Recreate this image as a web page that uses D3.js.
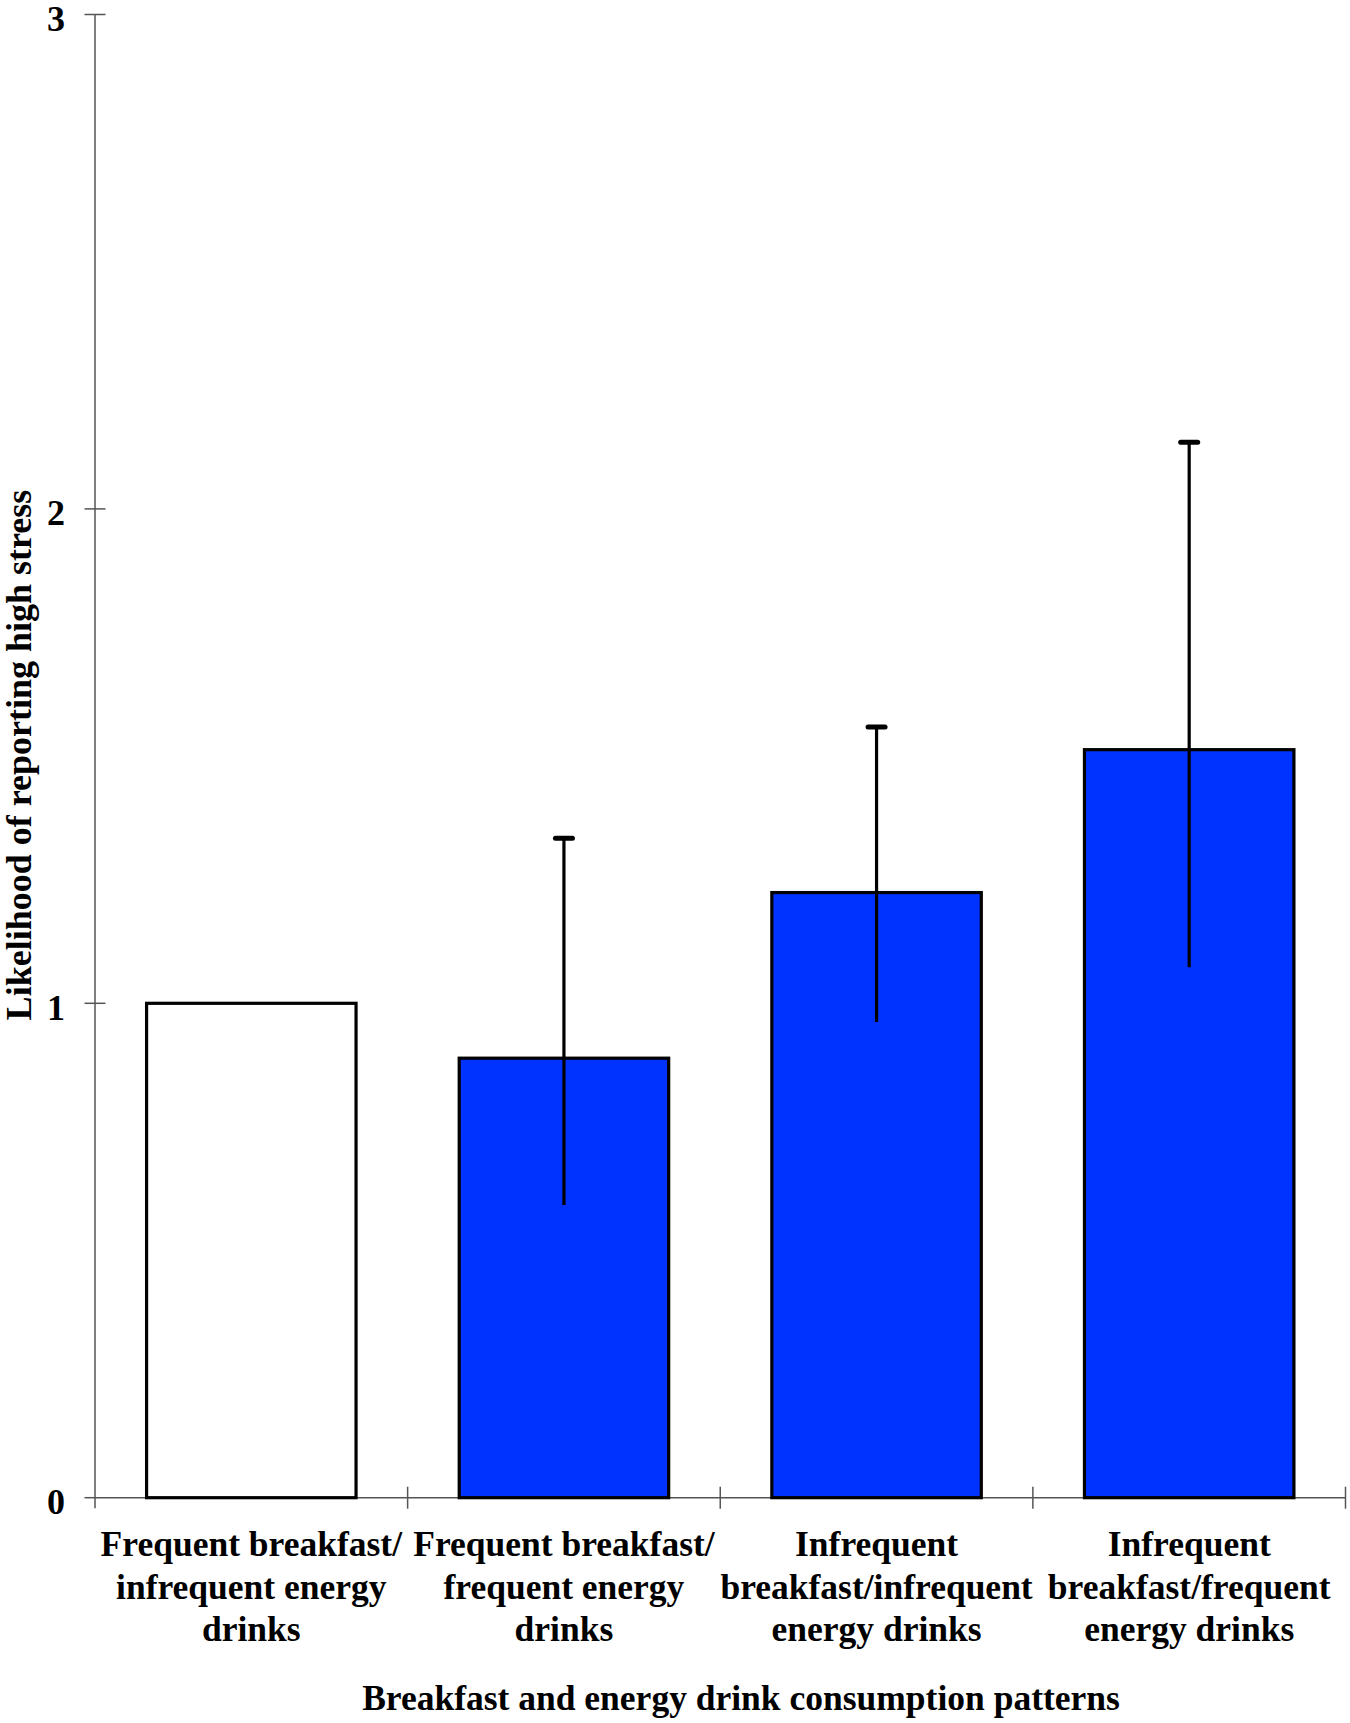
<!DOCTYPE html>
<html>
<head>
<meta charset="utf-8">
<script src="https://cdn.jsdelivr.net/npm/d3@7"></script>
<style>
  html, body { margin: 0; padding: 0; background: #ffffff; }
  svg { display: block; }
  text { font-family: "Liberation Serif", "Times New Roman", serif; font-weight: bold; fill: #000; }
</style>
</head>
<body>
<svg id="chart" width="1350" height="1723"></svg>
<script>
// ---- data ----
const categories = [
  ["Frequent breakfast/", "infrequent energy", "drinks"],
  ["Frequent breakfast/", "frequent energy", "drinks"],
  ["Infrequent", "breakfast/infrequent", "energy drinks"],
  ["Infrequent", "breakfast/frequent", "energy drinks"]
];
const values  = [1.0, 0.889, 1.224, 1.513];
const ciLower = [null, 0.592, 0.962, 1.073];
const ciUpper = [null, 1.336, 1.561, 2.137];
const isReference = [true, false, false, false];
const yTicks = [0, 1, 2, 3];
const yTitle = "Likelihood of reporting high stress";
const xTitle = "Breakfast and energy drink consumption patterns";

// ---- layout ----
const svg = d3.select("#chart");
const plotLeft = 95, plotRight = 1345.5, plotTop = 14.5, plotBottom = 1497.7;
const blue = "#0033ff";
const axisColor = "#555555";

const ids = d3.range(categories.length);
const x = d3.scaleBand().domain(ids).range([plotLeft, plotRight])
  .paddingInner(0.33).paddingOuter(0.165);
const y = d3.scaleLinear().domain([0, 3]).range([plotBottom, plotTop]);

// axes lines
svg.append("line")
  .attr("x1", plotLeft).attr("x2", plotLeft)
  .attr("y1", y(3)).attr("y2", y(0) + 10.5)
  .attr("stroke", axisColor).attr("stroke-width", 1.5);
svg.append("line")
  .attr("x1", plotLeft).attr("x2", plotRight)
  .attr("y1", y(0)).attr("y2", y(0))
  .attr("stroke", axisColor).attr("stroke-width", 1.5);

// y ticks (crossing the axis, "0" only to the left)
svg.selectAll(".ytick").data(yTicks).join("line")
  .attr("class", "ytick")
  .attr("x1", plotLeft - 10.5)
  .attr("x2", d => d === 0 ? plotLeft : plotLeft + 10.5)
  .attr("y1", d => y(d)).attr("y2", d => y(d))
  .attr("stroke", axisColor).attr("stroke-width", 1.5);
svg.selectAll(".ylab").data(yTicks).join("text")
  .attr("class", "ylab")
  .attr("x", 65).attr("y", d => y(d))
  .attr("dy", "0.45em")
  .attr("text-anchor", "end")
  .attr("font-size", 36)
  .text(d => d);

// x ticks at band boundaries
const half = x.step() * x.paddingInner() / 2;
const boundaries = ids.map(i => x(i) - half).concat([plotRight]);
svg.selectAll(".xtick").data(boundaries.slice(1)).join("line")
  .attr("class", "xtick")
  .attr("x1", d => d).attr("x2", d => d)
  .attr("y1", y(0) - 11).attr("y2", y(0) + 11)
  .attr("stroke", axisColor).attr("stroke-width", 1.5);

// bars
svg.selectAll(".bar").data(ids).join("rect")
  .attr("class", "bar")
  .attr("x", i => x(i))
  .attr("y", i => y(values[i]))
  .attr("width", x.bandwidth())
  .attr("height", i => y(0) - y(values[i]))
  .attr("fill", i => isReference[i] ? "#ffffff" : blue)
  .attr("stroke", "#000")
  .attr("stroke-width", 3.2);

// error bars (upper cap only)
const errIds = ids.filter(i => ciUpper[i] != null);
svg.selectAll(".err").data(errIds).join("line")
  .attr("class", "err")
  .attr("x1", i => x(i) + x.bandwidth() / 2)
  .attr("x2", i => x(i) + x.bandwidth() / 2)
  .attr("y1", i => y(ciUpper[i]))
  .attr("y2", i => y(ciLower[i]))
  .attr("stroke", "#000").attr("stroke-width", 3.2);
svg.selectAll(".cap").data(errIds).join("line")
  .attr("class", "cap")
  .attr("x1", i => x(i) + x.bandwidth() / 2 - 8.5)
  .attr("x2", i => x(i) + x.bandwidth() / 2 + 8.5)
  .attr("y1", i => y(ciUpper[i]) + 1)
  .attr("y2", i => y(ciUpper[i]) + 1)
  .attr("stroke", "#000").attr("stroke-width", 5)
  .attr("stroke-linecap", "round");

// category labels
const lab = svg.selectAll(".cat").data(ids).join("text")
  .attr("class", "cat")
  .attr("text-anchor", "middle")
  .attr("font-size", 35.5);
lab.each(function(i) {
  const t = d3.select(this);
  categories[i].forEach((line, k) => {
    t.append("tspan")
      .attr("x", x(i) + x.bandwidth() / 2)
      .attr("y", 1556 + k * 42.5)
      .text(line);
  });
});

// axis titles
svg.append("text")
  .attr("x", 741).attr("y", 1710)
  .attr("text-anchor", "middle")
  .attr("font-size", 35.5)
  .text(xTitle);
svg.append("text")
  .attr("transform", "translate(31,755) rotate(-90)")
  .attr("text-anchor", "middle")
  .attr("font-size", 36)
  .text(yTitle);
</script>
</body>
</html>
